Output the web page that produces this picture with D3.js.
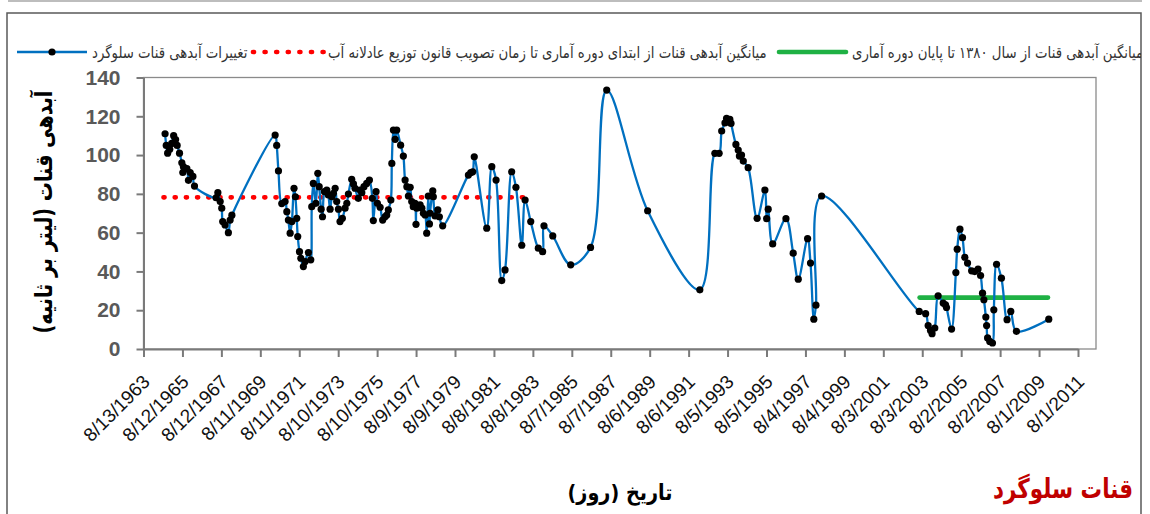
<!DOCTYPE html>
<html>
<head>
<meta charset="utf-8">
<script src="https://cdn.jsdelivr.net/npm/d3@7"></script>
<style>
  html, body { margin: 0; padding: 0; background: #fff; }
  svg { display: block; }
</style>
</head>
<body>
<svg id="chart" width="1150" height="514"></svg>
<script>
// ---- data -------------------------------------------------------------
// x-axis tick labels (every 730 days, M/D/YYYY)
const xTickLabels = [
  "8/13/1963", "8/12/1965", "8/12/1967", "8/11/1969", "8/11/1971",
  "8/10/1973", "8/10/1975", "8/9/1977", "8/9/1979", "8/8/1981",
  "8/8/1983", "8/7/1985", "8/7/1987", "8/6/1989", "8/6/1991",
  "8/5/1993", "8/5/1995", "8/4/1997", "8/4/1999", "8/3/2001",
  "8/3/2003", "8/2/2005", "8/2/2007", "8/1/2009", "8/1/2011"
];
const yTicks = [0, 20, 40, 60, 80, 100, 120, 140];

// measurement dates (decimal years) and qanat discharge (litre / second)
const sampleYears = [
  1964.72, 1964.78, 1964.85, 1964.96, 1965.06, 1965.16, 1965.26, 1965.34, 1965.46, 1965.58,
  1965.63, 1965.66, 1965.75, 1965.84, 1965.92, 1966.01, 1966.15, 1966.23, 1967.34, 1967.43,
  1967.55, 1967.63, 1967.68, 1967.80, 1967.97, 1968.06, 1968.15, 1970.37, 1970.45, 1970.54,
  1970.71, 1970.88, 1970.97, 1971.05, 1971.14, 1971.23, 1971.34, 1971.41, 1971.48, 1971.53,
  1971.62, 1971.69, 1971.82, 1971.91, 1972.08, 1972.20, 1972.25, 1972.33, 1972.46, 1972.56,
  1972.63, 1972.73, 1972.80, 1972.90, 1973.02, 1973.10, 1973.19, 1973.28, 1973.36, 1973.45,
  1973.53, 1973.62, 1973.70, 1973.82, 1973.96, 1974.05, 1974.13, 1974.30, 1974.39, 1974.47,
  1974.64, 1974.73, 1974.82, 1974.93, 1975.07, 1975.21, 1975.36, 1975.41, 1975.55, 1975.62,
  1975.76, 1975.89, 1976.01, 1976.10, 1976.18, 1976.31, 1976.36, 1976.44, 1976.53, 1976.61,
  1976.81, 1976.95, 1977.04, 1977.13, 1977.21, 1977.30, 1977.38, 1977.46, 1977.55, 1977.60,
  1977.64, 1977.81, 1977.90, 1977.98, 1978.07, 1978.15, 1978.23, 1978.29, 1978.32, 1978.46,
  1978.49, 1978.58, 1978.72, 1978.80, 1978.97, 1980.29, 1980.41, 1980.51, 1980.59, 1981.23,
  1981.49, 1981.71, 1982.00, 1982.17, 1982.51, 1982.73, 1983.03, 1983.20, 1983.49, 1983.88,
  1984.10, 1984.17, 1984.62, 1985.54, 1986.56, 1987.39, 1989.49, 1992.17, 1992.94, 1993.16,
  1993.29, 1993.46, 1993.54, 1993.71, 1993.77, 1994.02, 1994.14, 1994.20, 1994.31, 1994.40,
  1994.65, 1995.11, 1995.51, 1995.60, 1995.68, 1995.91, 1996.59, 1996.96, 1997.22, 1997.70,
  1997.85, 1998.02, 1998.13, 1998.42, 2003.43, 2003.76, 2003.89, 2004.01, 2004.09, 2004.23,
  2004.40, 2004.66, 2004.78, 2004.83, 2005.09, 2005.31, 2005.38, 2005.52, 2005.65, 2005.77,
  2005.91, 2006.12, 2006.28, 2006.45, 2006.58, 2006.68, 2006.75, 2006.85, 2006.89, 2006.94,
  2007.05, 2007.19, 2007.26, 2007.40, 2007.65, 2007.94, 2008.13, 2008.42, 2010.08
];
const flowLps = [
  111, 105, 101, 103, 106, 110, 108, 105, 101, 96,
  91, 94, 93, 93, 87, 91, 89, 84, 78, 80.6,
  76, 72.6, 65.7, 64, 60, 66.5, 69, 110.3, 105, 91.8,
  75, 76, 70.8, 66.5, 59.7, 65.7, 82.9, 78.5, 67.4, 58,
  50.2, 46.8, 42.5, 45.1, 49.7, 46, 73.4, 85.4, 75.1, 90.6,
  83.7, 72.1, 68.2, 81.1, 82, 79.4, 72.1, 78.5, 80.3, 82.9,
  76, 72.1, 65.7, 67.4, 72.6, 75.1, 79.9, 87.5, 85.1, 82.9,
  77.7, 82, 80.6, 83.7, 85.4, 87.1, 77.7, 66.2, 81.1, 75.1,
  73.1, 66.5, 68.2, 69.1, 71.7, 76.8, 95.7, 112.9, 108.1, 112.9,
  105.1, 99.5, 87.1, 83.7, 78.9, 83.4, 76, 73.4, 75.1, 64.3,
  72.6, 74.3, 72.6, 70, 69.1, 59.7, 78.9, 64.5, 70, 81.5,
  78.5, 68.6, 71.7, 68.2, 63.5, 89.7, 90.9, 91.4, 99.1, 62.3,
  94, 87.1, 35.3, 40.8, 91.4, 83.4, 53.5, 76.8, 65.7, 52,
  50.2, 63.5, 58.3, 43.4, 52.4, 133.5, 71.3, 30.5, 100.9, 100.9,
  112.4, 116.6, 118.9, 118.4, 116.3, 105.5, 102.6, 99.5, 100, 96.9,
  93.5, 67.4, 82, 67.2, 72.1, 54.2, 67.2, 49.4, 36, 56.9,
  44.3, 15.4, 22.6, 78.9, 19.4, 18.2, 12.1, 9.6, 7.9, 10.8,
  27.4, 23.7, 22.8, 21.4, 10.3, 39.4, 51.5, 61.8, 57.4, 47.3,
  44.3, 40.3, 39.9, 41.2, 37.9, 28.8, 25.4, 16.5, 12.1, 5.7,
  3.9, 3.1, 20.2, 43.7, 36.5, 15.1, 19.4, 9.1, 15.4
];

// mean discharge from the start of records to the water-distribution law
const preLawMean = 78.2;
const preLawSpan = [1964.64, 1983.2];
// mean discharge from 1380 (2001) to the end of records
const recentMean = 26.5;
const recentSpan = [2003.45, 2010.04];

const legendLabels = [
  "تغییرات آبدهی قنات سلوگرد",
  "میانگین آبدهی قنات از ابتدای دوره آماری تا زمان تصویب قانون توزیع عادلانه آب",
  "میانگین آبدهی قنات از سال ۱۳۸۰ تا پایان دوره آماری"
];
const yTitle = "آبدهی قنات (لیتر بر ثانیه)";
const xTitle = "تاریخ (روز)";
const chartTitle = "قنات سلوگرد";

// ---- helpers ----------------------------------------------------------
const parseMDY = d3.utcParse("%m/%d/%Y");
function fromDecimalYear(v) {
  const yr = Math.floor(v);
  const a = Date.UTC(yr, 0, 1), b = Date.UTC(yr + 1, 0, 1);
  return new Date(a + (v - yr) * (b - a));
}
// horizontal scale factor that makes a text element span `width` px
function fitWidth(sel, width) {
  const w = sel.node().getComputedTextLength();
  return width / w;
}

const persianFont = "'DejaVu Sans', sans-serif";
const latinFont = "'Liberation Sans', Arial, sans-serif";

// ---- layout -----------------------------------------------------------
const plot = { left: 143.5, right: 1078, frameRight: 1096, top: 77.5, bottom: 349 };
const svg = d3.select("#chart");

const xTickDates = xTickLabels.map(parseMDY);
const x = d3.scaleUtc()
  .domain([xTickDates[0], xTickDates[xTickDates.length - 1]])
  .range([plot.left, plot.right]);
const y = d3.scaleLinear().domain([0, 140]).range([plot.bottom, plot.top]);

const series = sampleYears.map((yr, i) => ({ date: fromDecimalYear(yr), v: flowLps[i] }));

// outer chart frame and rule above it
svg.append("line")
  .attr("x1", 8).attr("x2", 1142).attr("y1", 1).attr("y2", 1)
  .attr("stroke", "#bdbdbd").attr("stroke-width", 2);
svg.append("rect")
  .attr("x", 7).attr("y", 13).attr("width", 1134).attr("height", 520)
  .attr("fill", "none").attr("stroke", "#595959").attr("stroke-width", 1.5);

svg.append("defs").append("clipPath").attr("id", "frameClip")
  .append("rect").attr("x", 0).attr("y", 0).attr("width", 1141).attr("height", 514);

// plot area border
svg.append("rect")
  .attr("x", plot.left).attr("y", plot.top)
  .attr("width", plot.frameRight - plot.left).attr("height", plot.bottom - plot.top)
  .attr("fill", "none").attr("stroke", "#8a8a8a").attr("stroke-width", 1.3);

// y axis
const yAxis = svg.append("g")
  .attr("transform", `translate(${plot.left},0)`)
  .call(d3.axisLeft(y).tickValues(yTicks).tickSize(7).tickSizeOuter(0).tickPadding(16));
yAxis.select(".domain").attr("stroke", "#7a7a7a").attr("stroke-width", 2);
yAxis.selectAll(".tick line").attr("stroke", "#7a7a7a").attr("stroke-width", 2);
yAxis.selectAll(".tick text")
  .attr("font-family", latinFont).attr("font-weight", "bold")
  .attr("font-size", 21).attr("fill", "#595959");

// x axis
const xAxis = svg.append("g")
  .attr("transform", `translate(0,${plot.bottom})`)
  .call(d3.axisBottom(x).tickValues(xTickDates).tickSize(8).tickSizeOuter(0)
    .tickFormat((d, i) => xTickLabels[i]));
xAxis.select(".domain").attr("stroke", "#7a7a7a").attr("stroke-width", 2);
xAxis.selectAll(".tick line").attr("stroke", "#7a7a7a").attr("stroke-width", 2);
xAxis.selectAll(".tick text")
  .attr("x", 0).attr("y", 0).attr("dy", 0)
  .attr("text-anchor", "end")
  .attr("transform", "translate(7,34) rotate(-45)")
  .attr("font-family", latinFont).attr("font-size", 19).attr("fill", "#111");

// mean lines
svg.append("line")
  .attr("x1", x(fromDecimalYear(preLawSpan[0]))).attr("x2", x(fromDecimalYear(preLawSpan[1])))
  .attr("y1", y(preLawMean)).attr("y2", y(preLawMean))
  .attr("stroke", "#ff0000").attr("stroke-width", 4.7)
  .attr("stroke-linecap", "round").attr("stroke-dasharray", "1 10.2");
svg.append("line")
  .attr("x1", x(fromDecimalYear(recentSpan[0]))).attr("x2", x(fromDecimalYear(recentSpan[1])))
  .attr("y1", y(recentMean)).attr("y2", y(recentMean))
  .attr("stroke", "#1fb144").attr("stroke-width", 4.6).attr("stroke-linecap", "round");

// discharge series: smoothed line with markers
const line = d3.line()
  .x(d => x(d.date)).y(d => y(d.v))
  .curve(d3.curveCatmullRom.alpha(0.5));
svg.append("path").datum(series)
  .attr("d", line).attr("fill", "none")
  .attr("stroke", "#0070c0").attr("stroke-width", 2.3);
svg.append("g").selectAll("circle").data(series).join("circle")
  .attr("cx", d => x(d.date)).attr("cy", d => y(d.v)).attr("r", 3.6)
  .attr("fill", "#000");

// legend
const legY = 52;
const leg = svg.append("g").attr("clip-path", "url(#frameClip)");
leg.append("line").attr("x1", 17).attr("x2", 87).attr("y1", legY).attr("y2", legY)
  .attr("stroke", "#0070c0").attr("stroke-width", 2.3);
leg.append("circle").attr("cx", 52).attr("cy", legY).attr("r", 3.6).attr("fill", "#000");
leg.append("line").attr("x1", 253).attr("x2", 324).attr("y1", legY).attr("y2", legY)
  .attr("stroke", "#ff0000").attr("stroke-width", 4.7)
  .attr("stroke-linecap", "round").attr("stroke-dasharray", "1 10.6");
leg.append("line").attr("x1", 779).attr("x2", 846).attr("y1", legY).attr("y2", legY)
  .attr("stroke", "#1fb144").attr("stroke-width", 4.6).attr("stroke-linecap", "round");

const legendLeft = [92, 328, 852];
const legTexts = legendLabels.map(t => leg.append("text")
  .attr("x", 0).attr("y", 0).attr("dy", "0.35em")
  .attr("font-family", persianFont).attr("font-size", 16).attr("fill", "#333")
  .text(t));
const legScale = fitWidth(legTexts[1], 767 - 328);
legTexts.forEach((t, i) => t.attr("transform", `translate(${legendLeft[i]},${legY}) scale(${legScale},1)`));

// axis titles
const yT = svg.append("text")
  .attr("text-anchor", "middle").attr("dy", "0.35em")
  .attr("font-family", persianFont).attr("font-weight", "bold")
  .attr("font-size", 24).attr("fill", "#000").text(yTitle);
yT.attr("transform", `translate(44,212) rotate(-90) scale(${fitWidth(yT, 243)},1)`);

const xT = svg.append("text")
  .attr("text-anchor", "middle")
  .attr("font-family", persianFont).attr("font-weight", "bold")
  .attr("font-size", 22).attr("fill", "#000").text(xTitle);
xT.attr("transform", `translate(620,500) scale(${fitWidth(xT, 105)},1)`);

const title = svg.append("text")
  .attr("text-anchor", "middle")
  .attr("font-family", persianFont).attr("font-weight", "bold")
  .attr("font-size", 27).attr("fill", "#c00000").text(chartTitle);
title.attr("transform", `translate(1063,498) scale(${fitWidth(title, 140)},1)`);
</script>
</body>
</html>
